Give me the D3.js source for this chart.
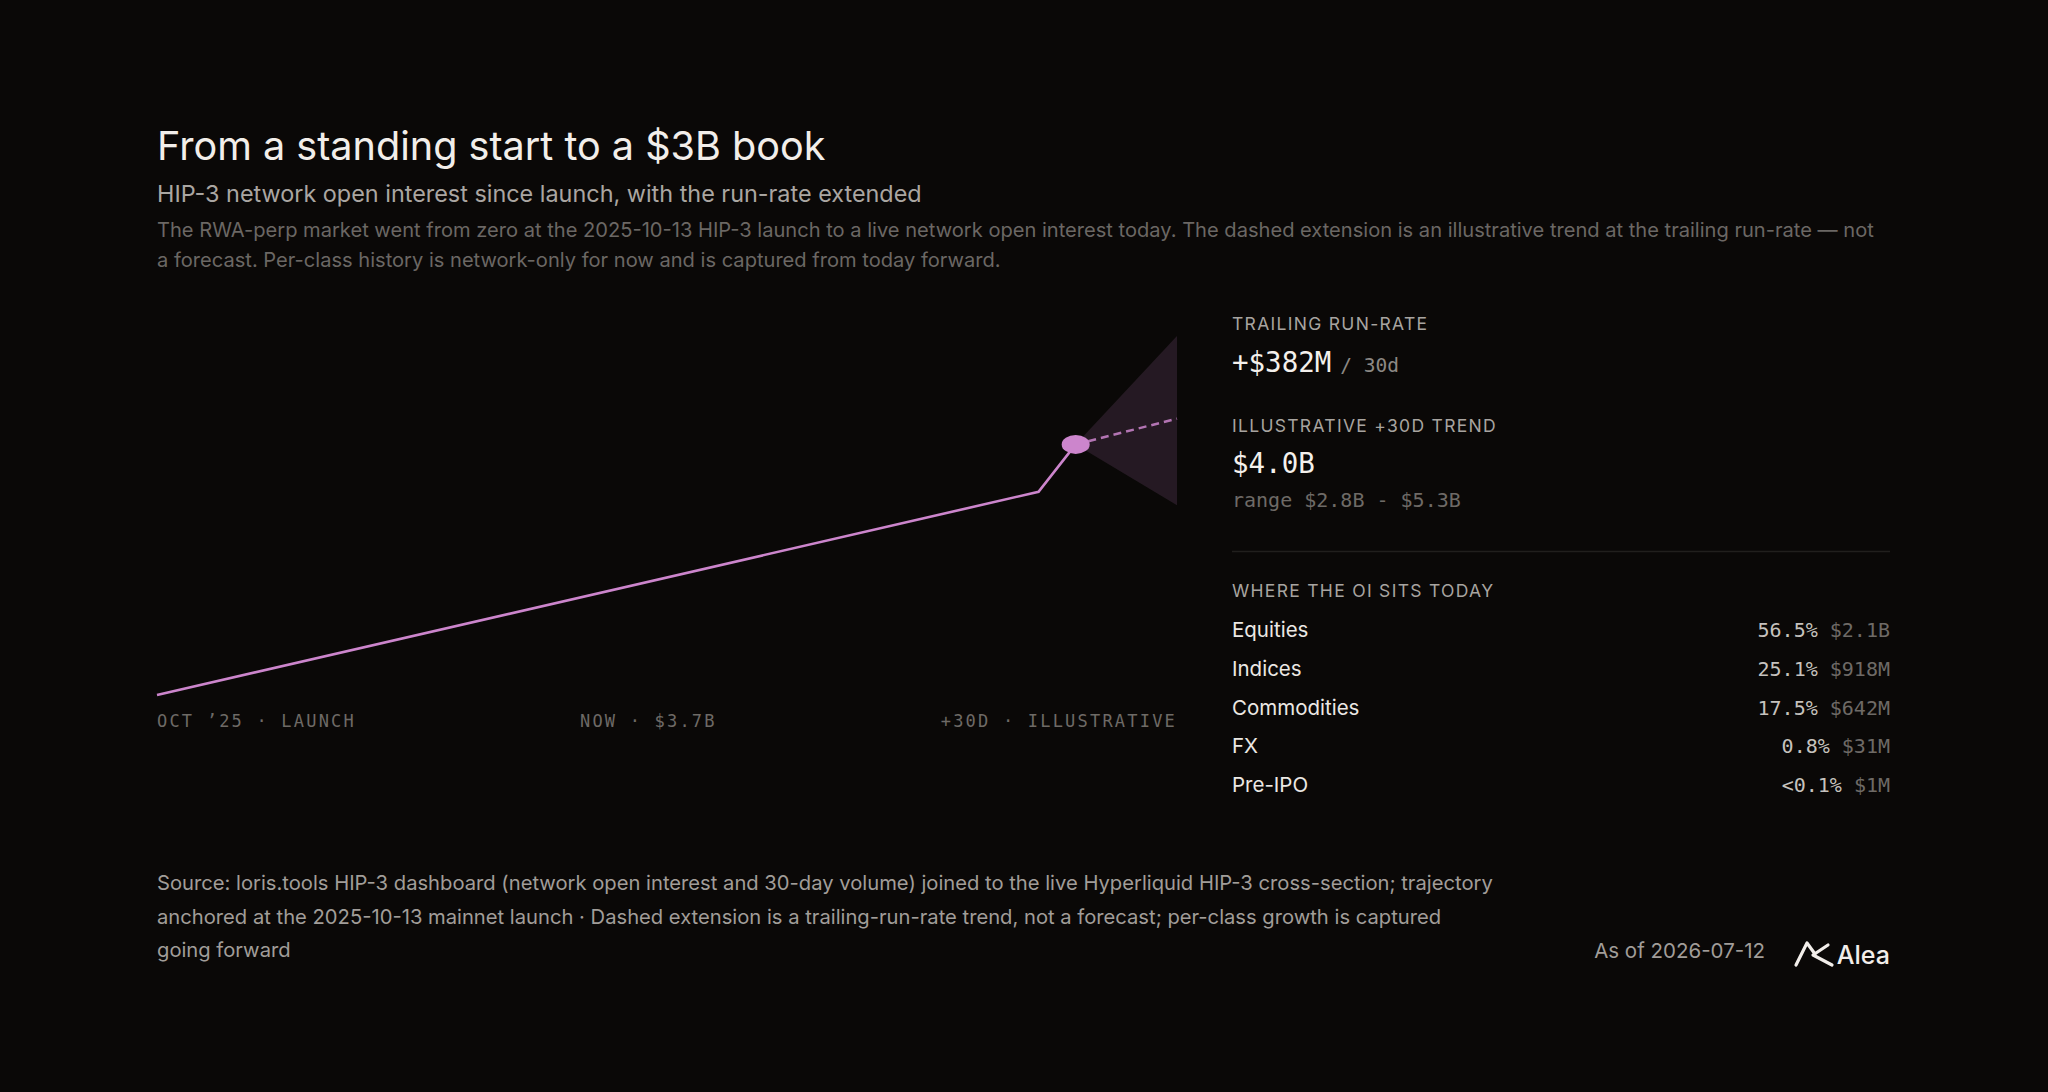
<!DOCTYPE html>
<html>
<head>
<meta charset="utf-8">
<script src="https://cdn.jsdelivr.net/npm/d3@7"></script>
<style>
  html, body { margin: 0; background: #0a0807; }
  svg { display: block; }
</style>
</head>
<body>
<div id="chart"></div>
<script>
const W = 2048, H = 1092;
const SANS = 'Inter, "DejaVu Sans", sans-serif';
const MONO = '"DejaVu Sans Mono", "Liberation Mono", monospace';

// network open interest, USD billions
const oiDates  = ['2025-10-13', '2026-07-01', '2026-07-12'];
const oiValues = [0, 3.0, 3.7];

// illustrative +30d extension at trailing run-rate
const trendDates  = ['2026-07-12', '2026-08-11'];
const trendValues = [3.7, 4.08];
const trendLow  = 2.8;
const trendHigh = 5.3;

const axisLabels = ["OCT \u201925 \u00b7 LAUNCH", 'NOW \u00b7 $3.7B', '+30D \u00b7 ILLUSTRATIVE'];

const classNames  = ['Equities', 'Indices', 'Commodities', 'FX', 'Pre-IPO'];
const classShares = ['56.5%', '25.1%', '17.5%', '0.8%', '<0.1%'];
const classOI     = ['$2.1B', '$918M', '$642M', '$31M', '$1M'];

const LINE = '#cc85cc';
const PLOT = { left: 157, right: 1177, top: 336, bottom: 695 };
const PANEL = { left: 1232, right: 1890 };

const parse = d3.timeParse('%Y-%m-%d');

const svg = d3.select('#chart').append('svg')
  .attr('width', W).attr('height', H)
  .style('background', '#0a0807');

// ---- header
svg.append('text').attr('x', 157).attr('y', 160)
  .style('font', `400 39.6px ${SANS}`).style('fill', '#f2eeea')
  .text('From a standing start to a $3B book');

svg.append('text').attr('x', 157).attr('y', 202)
  .style('font', `400 23.4px ${SANS}`).style('fill', '#aaa6a2')
  .text('HIP-3 network open interest since launch, with the run-rate extended');

const desc = [
  'The RWA-perp market went from zero at the 2025-10-13 HIP-3 launch to a live network open interest today. The dashed extension is an illustrative trend at the trailing run-rate \u2014 not',
  'a forecast. Per-class history is network-only for now and is captured from today forward.'
];
svg.selectAll('.desc').data(desc).join('text')
  .attr('class', 'desc')
  .attr('x', 157).attr('y', (d, i) => 237 + i * 30)
  .style('font', `400 20.1px ${SANS}`).style('fill', '#6b6764')
  .text(d => d);

// ---- chart
const x = d3.scaleTime()
  .domain([parse(oiDates[0]), parse(trendDates[1])])
  .range([PLOT.left, PLOT.right]);
const y = d3.scaleLinear().domain([0, trendHigh]).range([PLOT.bottom, PLOT.top]);

const oi = oiDates.map((d, i) => ({ date: parse(d), v: oiValues[i] }));
const trend = trendDates.map((d, i) => ({ date: parse(d), v: trendValues[i] }));
const now = oi[oi.length - 1];

const g = svg.append('g');

// cone of the illustrative range
g.append('path')
  .attr('d', d3.line()([
    [x(now.date), y(now.v)],
    [x(parse(trendDates[1])), y(trendHigh)],
    [x(parse(trendDates[1])), y(trendLow)]
  ]) + 'Z')
  .attr('fill', LINE).attr('fill-opacity', 0.14);

const line = d3.line().x(d => x(d.date)).y(d => y(d.v));

g.append('path').datum(trend)
  .attr('d', line)
  .attr('fill', 'none').attr('stroke', LINE).attr('stroke-opacity', 0.85)
  .attr('stroke-width', 2.5).attr('stroke-dasharray', '8 5');

g.append('path').datum(oi)
  .attr('d', line)
  .attr('fill', 'none').attr('stroke', LINE)
  .attr('stroke-width', 2.6).attr('stroke-linejoin', 'miter');

g.append('ellipse')
  .attr('cx', x(now.date)).attr('cy', y(now.v))
  .attr('rx', 14).attr('ry', 9.5)
  .attr('fill', LINE);

// axis labels, spread edge to edge
const ax = g.selectAll('.ax').data(axisLabels).join('text')
  .attr('class', 'ax')
  .attr('y', 727)
  .style('font', `400 17px ${MONO}`).style('letter-spacing', '2.2px')
  .style('fill', '#6e6a66')
  .text(d => d);
const widths = ax.nodes().map(n => n.getComputedTextLength());
const gap = (PLOT.right - PLOT.left - d3.sum(widths)) / (widths.length - 1);
let cursor = PLOT.left;
ax.attr('x', (d, i) => { const p = cursor; cursor += widths[i] + gap; return p; });

// ---- right panel
const p = svg.append('g');
const label = (txt, yy) => p.append('text').attr('x', PANEL.left).attr('y', yy)
  .style('font', `400 17.5px ${SANS}`).style('letter-spacing', '1.3px')
  .style('fill', '#a8a4a0').text(txt);

label('TRAILING RUN-RATE', 330);
const rr = p.append('text').attr('x', PANEL.left).attr('y', 372);
rr.append('tspan').style('font', `500 27.5px ${MONO}`).style('fill', '#f4f0ec').text('+$382M');
rr.append('tspan').attr('dx', 9).style('font', `400 19.5px ${MONO}`).style('fill', '#8c8884').text('/ 30d');

label('ILLUSTRATIVE +30D TREND', 432);
p.append('text').attr('x', PANEL.left).attr('y', 473)
  .style('font', `500 27.5px ${MONO}`).style('fill', '#f4f0ec').text('$4.0B');
p.append('text').attr('x', PANEL.left).attr('y', 507)
  .style('font', `400 20px ${MONO}`).style('fill', '#6e6a66')
  .text(`range $${trendLow.toFixed(1)}B - $${trendHigh.toFixed(1)}B`);

p.append('line')
  .attr('x1', PANEL.left).attr('x2', PANEL.right)
  .attr('y1', 551.5).attr('y2', 551.5)
  .attr('stroke', '#211f1d').attr('stroke-width', 1.5);

label('WHERE THE OI SITS TODAY', 597);

const rowY = d3.scalePoint().domain(classNames).range([637, 792]);
const rows = p.selectAll('.row').data(classNames).join('g').attr('class', 'row');
rows.append('text')
  .attr('x', PANEL.left).attr('y', d => rowY(d))
  .style('font', `400 20.5px ${SANS}`).style('fill', '#ece8e4')
  .text(d => d);
const vals = rows.append('text')
  .attr('x', PANEL.right).attr('y', d => rowY(d))
  .attr('text-anchor', 'end')
  .style('font', `400 20px ${MONO}`);
vals.append('tspan').style('fill', '#c6c2be').text((d, i) => classShares[i] + ' ');
vals.append('tspan').style('fill', '#6e6a66').text((d, i) => classOI[i]);

// ---- footer
const source = [
  'Source: loris.tools HIP-3 dashboard (network open interest and 30-day volume) joined to the live Hyperliquid HIP-3 cross-section; trajectory',
  'anchored at the 2025-10-13 mainnet launch \u00b7 Dashed extension is a trailing-run-rate trend, not a forecast; per-class growth is captured',
  'going forward'
];
svg.selectAll('.src').data(source).join('text')
  .attr('class', 'src')
  .attr('x', 157).attr('y', (d, i) => 890 + i * 33.5)
  .style('font', `400 20.2px ${SANS}`).style('fill', '#a19d99')
  .text(d => d);

svg.append('text').attr('x', 1765).attr('y', 958)
  .attr('text-anchor', 'end')
  .style('font', `400 20.5px ${SANS}`).style('fill', '#a19d99')
  .text('As of 2026-07-12');

// logo mark + wordmark
const logo = svg.append('g').attr('transform', 'translate(1795,940)')
  .attr('fill', 'none').attr('stroke', '#f2eeea').attr('stroke-width', 3.2)
  .attr('stroke-linecap', 'round').attr('stroke-linejoin', 'round');
logo.append('path').attr('d', 'M1,25 L12,3 L20,14');
logo.append('path').attr('d', 'M33,5 L18,15 L37,25');
svg.append('text').attr('x', 1890).attr('y', 964)
  .attr('text-anchor', 'end')
  .style('font', `500 25px ${SANS}`).style('fill', '#f2eeea')
  .text('Alea');
</script>
</body>
</html>
